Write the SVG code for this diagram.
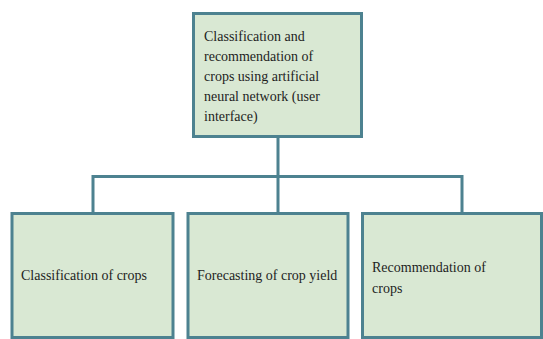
<svg xmlns="http://www.w3.org/2000/svg" width="543" height="339" viewBox="0 0 543 339">
<style>
.box{fill:#d9e8d3;stroke:#4d8290;stroke-width:3}
.conn{fill:none;stroke:#4d8290;stroke-width:3}
.t{font-family:'Liberation Serif','Times New Roman',Times,serif;font-size:14px;fill:#1e1e1e}
</style>
<rect width="543" height="339" fill="#ffffff"/>
<g id="connectors">
<path class="conn" d="M278 137V213M93 213V176.5H462V213"/>
</g>
<g id="root" class="t" font-family="Liberation Serif, serif">
<rect class="box" x="193.5" y="13.5" width="168" height="123"/>
<text x="204" y="40.5">Classification and</text>
<text x="204" y="60.5">recommendation of</text>
<text x="204" y="80.5">crops using artificial</text>
<text x="204" y="100.5">neural network (user</text>
<text x="204" y="120.5">interface)</text>
</g>
<g id="classification" class="t" font-family="Liberation Serif, serif">
<rect class="box" x="12" y="213.5" width="161" height="124"/>
<text x="21" y="280">Classification of crops</text>
</g>
<g id="forecasting" class="t" font-family="Liberation Serif, serif">
<rect class="box" x="188" y="213.5" width="160" height="124"/>
<text x="197" y="280">Forecasting of crop yield</text>
</g>
<g id="recommendation" class="t" font-family="Liberation Serif, serif">
<rect class="box" x="362.5" y="213.5" width="179" height="124"/>
<text x="372" y="272">Recommendation of</text>
<text x="372" y="293">crops</text>
</g>
</svg>
